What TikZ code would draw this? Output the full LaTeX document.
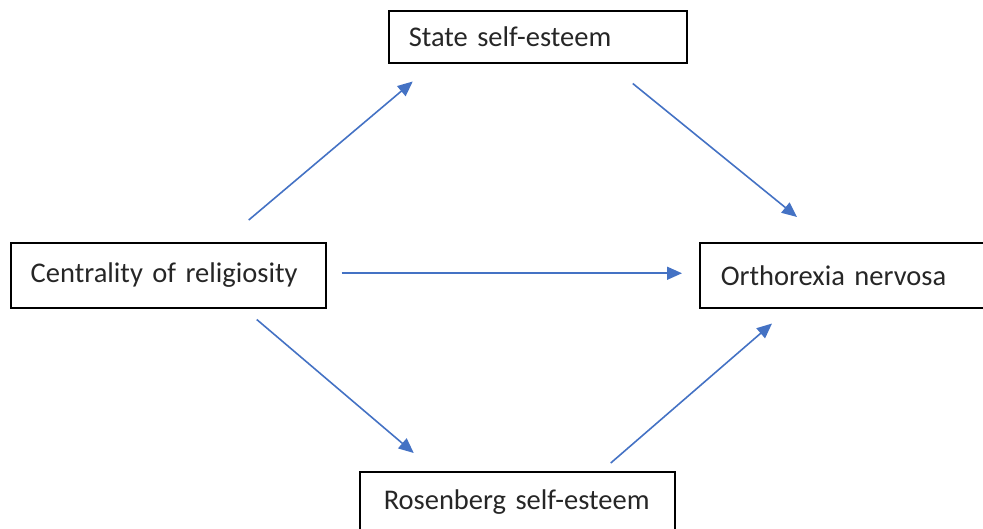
\documentclass[tikz,border=0pt]{standalone}
\usepackage{fontspec}
\setmainfont[WordSpace=0.8]{Carlito}
\usepackage{xcolor}
\usetikzlibrary{arrows.meta}
\definecolor{arrblue}{HTML}{4472C4}

\begin{document}
\begin{tikzpicture}[x=1pt, y=-1pt, font=\fontsize{28.5}{33}\selectfont,
  box/.style={draw, line width=1.5pt, anchor=north west, align=left,
              inner xsep=20pt, inner ysep=0pt, text=black!85},
  arr/.style={-{Triangle[length=15pt, width=13pt]}, line width=1.6pt, arrblue}]

\useasboundingbox (0,0) rectangle (983,528);
\clip (0,0) rectangle (983,528);

% boxes
\node[box, text width=268pt, minimum height=52pt, inner xsep=15pt] (sse) at (388,10)  {\hspace*{5pt}State self-esteem};
\node[box, text width=285pt, minimum height=65pt, inner xsep=15pt] (crl) at (10,242)  {\hspace*{5pt}Centrality of religiosity};
\node[box, text width=270pt, minimum height=65pt, inner xsep=15pt] (orx) at (699,242) {\hspace*{6pt}Orthorexia nervosa};
\node[box, text width=285pt, minimum height=60pt, inner xsep=15pt] (rse) at (359,471) {\hspace*{9pt}Rosenberg self-esteem};

% paths
\draw[arr] ([shift={(80.5,-22)}]crl.north) -- ([shift={(-125,18)}]sse.south);
\draw[arr] ([shift={(95,20)}]sse.south) -- ([shift={(98,-25)}]orx.north west);
\draw[arr] ([shift={(15,-2)}]crl.east) -- ([shift={(-17,-2)}]orx.west);
\draw[arr] ([shift={(88.5,11)}]crl.south) -- ([shift={(-103.5,-18)}]rse.north);
\draw[arr] ([shift={(93.5,-8)}]rse.north) -- ([shift={(73,15)}]orx.south west);
\end{tikzpicture}
\end{document}
